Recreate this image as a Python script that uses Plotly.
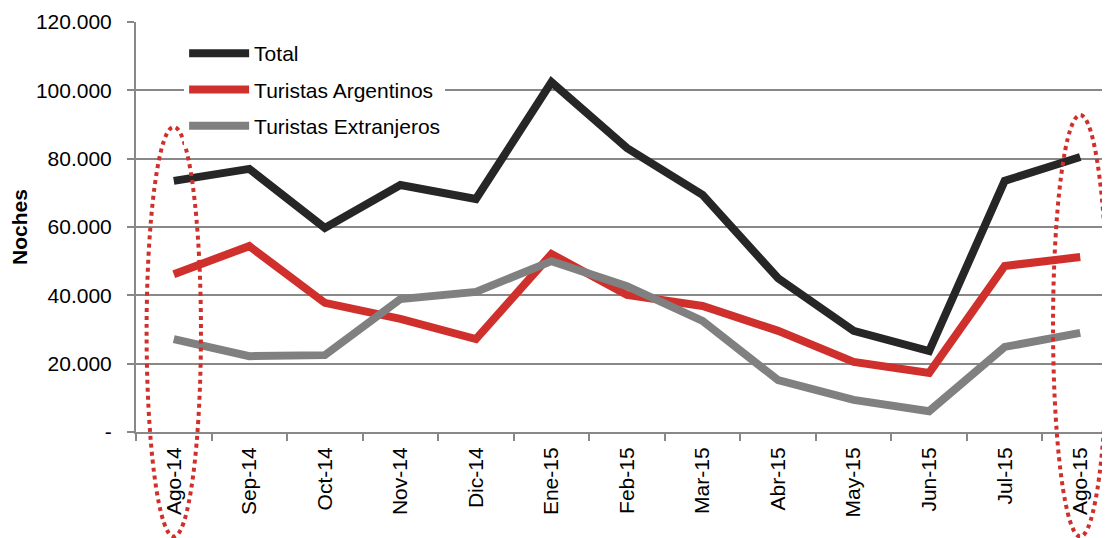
import plotly.graph_objects as go

categories = ["Ago-14", "Sep-14", "Oct-14", "Nov-14", "Dic-14", "Ene-15", "Feb-15",
              "Mar-15", "Abr-15", "May-15", "Jun-15", "Jul-15", "Ago-15"]
total = [73500, 77000, 59700, 72300, 68200, 102400, 83100, 69400, 45000, 29600, 23700, 73500, 80500]
argentinos = [46200, 54400, 37800, 33100, 27200, 52100, 40100, 36900, 29600, 20500, 17300, 48600, 51200]
extranjeros = [27200, 22200, 22500, 38900, 41000, 50000, 42700, 32500, 15200, 9400, 6100, 24900, 29000]
y_tickvals = [0, 20000, 40000, 60000, 80000, 100000, 120000]
y_ticktext = ["-", "20.000", "40.000", "60.000", "80.000", "100.000", "120.000"]

fig = go.Figure()
for name, vals, color in [("Total", total, "#262626"),
                          ("Turistas Argentinos", argentinos, "#d0302c"),
                          ("Turistas Extranjeros", extranjeros, "#808080")]:
    fig.add_trace(go.Scatter(x=categories, y=vals, name=name, mode="lines",
                             legendgroup=name,
                             line=dict(color=color, width=8)))

# dotted ellipses highlighting first and last month
for idx, top in [(0, 0.744), (12, 0.773)]:
    fig.add_shape(type="circle", xref="x", yref="paper",
                  x0=idx - 0.36, x1=idx + 0.36, y0=-0.255, y1=top,
                  line=dict(color="#d0302c", width=4, dash="dot"), layer="above")

fig.update_layout(
    width=1110, height=538,
    margin=dict(l=128, r=0, t=14, b=114),
    paper_bgcolor="white", plot_bgcolor="white",
    font=dict(family="Liberation Sans, Arial, sans-serif", size=21, color="#000000"),
    showlegend=True,
    legend=dict(x=0.049, y=0.973, xanchor="left", yanchor="top",
                bgcolor="white", font=dict(size=21), tracegroupgap=6,
                itemwidth=60),
)
fig.update_xaxes(type="category", range=[-0.5, 12.5], tickangle=-90,
                 showline=True, linecolor="#888888", linewidth=2,
                 ticks="outside", tickson="boundaries", ticklen=7, tickcolor="#888888",
                 tickwidth=2, showgrid=False, tickfont=dict(size=21),
                 ticklabelstandoff=5)
fig.update_yaxes(range=[0, 120000], tickvals=y_tickvals, ticktext=y_ticktext,
                 showline=True, linecolor="#888888", linewidth=2,
                 ticks="outside", ticklen=7, tickcolor="#888888", tickwidth=2,
                 showgrid=True, gridcolor="#888888", gridwidth=1.5,
                 zeroline=False, ticklabelstandoff=11,
                 title=dict(text="<b>Noches</b>", font=dict(size=21), standoff=6),
                 tickfont=dict(size=21))

fig.write_html("out.html")
